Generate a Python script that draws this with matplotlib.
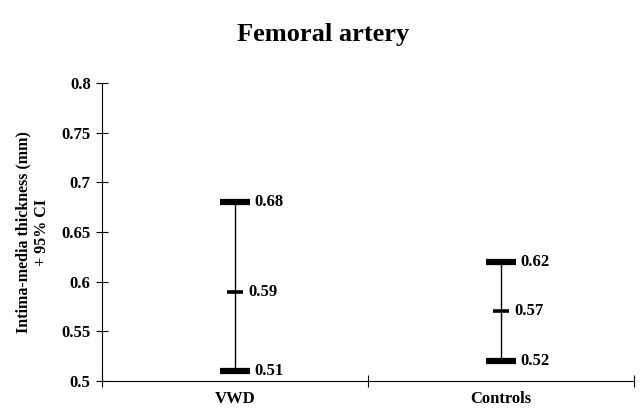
import numpy as np
import matplotlib.pyplot as plt

plt.rcParams['font.family'] = ['Liberation Serif', 'DejaVu Serif']
plt.rcParams['font.weight'] = 'bold'

groups = ['VWD', 'Controls']
means = [0.59, 0.57]
lower = [0.51, 0.52]
upper = [0.68, 0.62]
yticks = [0.5, 0.55, 0.6, 0.65, 0.7, 0.75, 0.8]
ytick_labels = ['0.5', '0.55', '0.6', '0.65', '0.7', '0.75', '0.8']

fig = plt.figure(figsize=(6.4, 4.11), dpi=100)
ax = fig.add_axes([0.159, 0.073, 0.832, 0.725])

xpos = np.arange(len(groups)) + 0.5
# whisker lines
ax.vlines(xpos, lower, upper, color='black', lw=1.0)
# thick caps at CI limits
ax.plot(xpos, upper, ls='none', marker='_', ms=21, mew=4.5, color='black')
ax.plot(xpos, lower, ls='none', marker='_', ms=21, mew=4.5, color='black')
# mean marks
ax.plot(xpos, means, ls='none', marker='_', ms=11, mew=2.6, color='black')

for x, m, lo, hi in zip(xpos, means, lower, upper):
    for v in (lo, m, hi):
        off = 14 if v != m else 9.5
        ax.annotate(f'{v:.2f}', (x, v), xytext=(off, 0), textcoords='offset points',
                    va='center', ha='left', fontsize=12, fontweight='bold')

ax.set_xlim(0, 2)
ax.set_ylim(0.5, 0.8)
ax.set_yticks(yticks)
ax.set_yticklabels(ytick_labels, fontsize=12, fontweight='bold')
ax.set_xticks([0, 1, 2])
ax.set_xticklabels(['', '', ''])
ax.set_xticks(xpos, minor=True)
ax.set_xticklabels(groups, minor=True, fontsize=12, fontweight='bold')
ax.tick_params(axis='x', which='minor', length=0, pad=7)
ax.tick_params(axis='x', which='major', direction='inout', length=8)
ax.tick_params(axis='y', direction='inout', length=8, width=0.8, pad=4)
for s in ['top', 'right']:
    ax.spines[s].set_visible(False)

ax.set_ylabel('Intima-media thickness (mm)\n+ 95% CI', fontsize=11.5, fontweight='bold', labelpad=8)
fig.suptitle('Femoral artery', fontsize=19, fontweight='bold', x=0.505, y=0.945)

fig.savefig('out.png', dpi=100)
